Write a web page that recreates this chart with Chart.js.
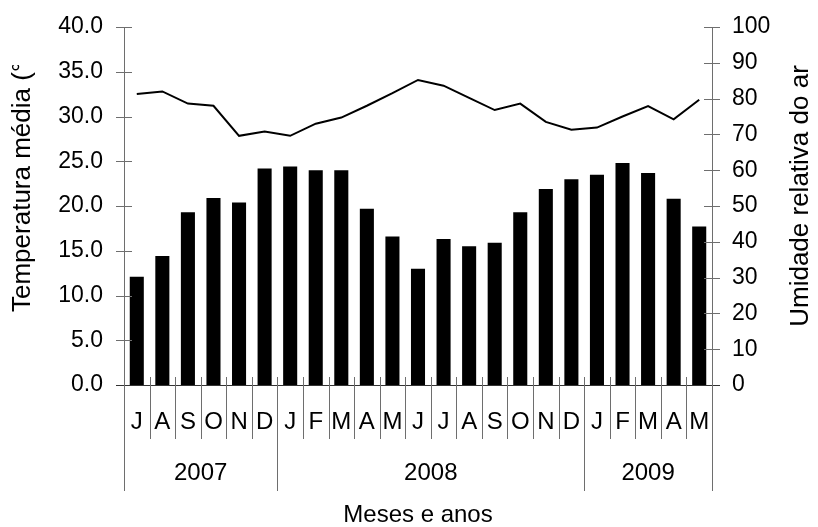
<!DOCTYPE html>
<html>
<head>
<meta charset="utf-8">
<script src="https://cdn.jsdelivr.net/npm/chart.js@4"></script>
<style>
  html, body { margin: 0; padding: 0; background: #fff; }
  #wrap { width: 818px; height: 527px; }
</style>
</head>
<body>
<div id="wrap"><canvas id="climaChart" width="818" height="527"></canvas></div>
<script>
// Meses (categorias) e anos
const months = ['J','A','S','O','N','D','J','F','M','A','M','J','J','A','S','O','N','D','J','F','M','A','M'];
const yearLabels = ['2007', '2008', '2009'];
const yearSpans = [6, 12, 5];

// Temperatura média (barras, eixo esquerdo)
const temperatura = [12.1, 14.4, 19.3, 20.9, 20.4, 24.2, 24.4, 24.0, 24.0, 19.7, 16.6, 13.0,
                     16.3, 15.5, 15.9, 19.3, 21.9, 23.0, 23.5, 24.8, 23.7, 20.8, 17.7];
// Umidade relativa do ar (linha, eixo direito)
const umidade = [81.3, 82.0, 78.6, 78.0, 69.6, 70.8, 69.6, 73.0, 74.7, 78.0, 81.5, 85.2,
                 83.6, 80.2, 76.8, 78.6, 73.5, 71.3, 71.9, 75.0, 77.9, 74.2, 79.7];

// Ticks
const leftTicks = [0, 5, 10, 15, 20, 25, 30, 35, 40];
const rightTicks = [0, 10, 20, 30, 40, 50, 60, 70, 80, 90, 100];

const FAMILY = '"Liberation Sans", Arial, sans-serif';
const AXIS = '#6e6e6e';

// Draws axes, crossing ticks, month/year separators and titles
const axesPlugin = {
  id: 'axesPlugin',
  afterDraw(chart) {
    const ctx = chart.ctx;
    const xs = chart.scales.x, yl = chart.scales.y, yr = chart.scales.y1;
    const area = chart.chartArea;
    const n = months.length;
    const w = (area.right - area.left) / n;
    const base = yl.getPixelForValue(0);
    const edge = i => xs.getPixelForValue(i) - w / 2;

    ctx.save();
    ctx.lineWidth = 1;
    ctx.strokeStyle = AXIS;
    ctx.fillStyle = '#000';

    // left axis
    ctx.beginPath();
    ctx.moveTo(area.left + 0.5, yl.getPixelForValue(40));
    ctx.lineTo(area.left + 0.5, base);
    leftTicks.forEach(v => {
      const y = Math.round(yl.getPixelForValue(v)) + 0.5;
      ctx.moveTo(area.left - 8, y);
      ctx.lineTo(area.left + 8, y);
    });
    // right axis
    ctx.moveTo(area.right + 0.5, yr.getPixelForValue(100));
    ctx.lineTo(area.right + 0.5, base);
    rightTicks.forEach(v => {
      const y = Math.round(yr.getPixelForValue(v)) + 0.5;
      ctx.moveTo(area.right - 8, y);
      ctx.lineTo(area.right + 8, y);
    });
    ctx.stroke();

    // x axis
    ctx.strokeStyle = '#333';
    ctx.beginPath();
    ctx.moveTo(area.left - 8, Math.round(base) + 0.5);
    ctx.lineTo(area.right + 8, Math.round(base) + 0.5);
    ctx.stroke();

    // month separators
    ctx.strokeStyle = AXIS;
    ctx.beginPath();
    for (let i = 0; i <= n; i++) {
      const x = Math.round(edge(i)) + 0.5;
      ctx.moveTo(x, base - 8);
      ctx.lineTo(x, base + 54);
    }
    // year separators
    let acc = 0;
    [0, ...yearSpans].forEach(s => {
      acc += s;
      const x = Math.round(edge(acc)) + 0.5;
      ctx.moveTo(x, base - 8);
      ctx.lineTo(x, base + 106);
    });
    ctx.stroke();

    // tick labels
    ctx.font = '23px ' + FAMILY;
    ctx.textBaseline = 'middle';
    ctx.textAlign = 'right';
    leftTicks.forEach(v => ctx.fillText(v.toFixed(1), area.left - 21, yl.getPixelForValue(v)));
    ctx.textAlign = 'left';
    rightTicks.forEach(v => ctx.fillText(String(v), area.right + 20, yr.getPixelForValue(v)));

    // month labels
    ctx.font = '24px ' + FAMILY;
    ctx.textAlign = 'center';
    months.forEach((m, i) => ctx.fillText(m, xs.getPixelForValue(i), base + 37));

    // year labels
    acc = 0;
    yearLabels.forEach((yLabel, k) => {
      const x0 = edge(acc), x1 = edge(acc + yearSpans[k]);
      acc += yearSpans[k];
      ctx.fillText(yLabel, (x0 + x1) / 2, base + 88);
    });

    // titles
    ctx.fillText('Meses e anos', (area.left + area.right) / 2, 515);

    ctx.font = '26px ' + FAMILY;
    ctx.save();
    ctx.translate(23, 312);
    ctx.rotate(-Math.PI / 2);
    ctx.textAlign = 'left';
    ctx.beginPath();
    ctx.rect(0, -20, 247, 40);
    ctx.clip();
    ctx.fillText('Temperatura média (°C)', 0, 0);
    ctx.restore();

    ctx.save();
    ctx.translate(801, 196);
    ctx.rotate(-Math.PI / 2);
    ctx.textAlign = 'center';
    ctx.fillText('Umidade relativa do ar', 0, 0);
    ctx.restore();

    ctx.restore();
  }
};

new Chart(document.getElementById('climaChart').getContext('2d'), {
  type: 'bar',
  data: {
    labels: months,
    datasets: [
      {
        type: 'line',
        label: 'Umidade relativa do ar',
        data: umidade,
        yAxisID: 'y1',
        borderColor: '#000',
        borderWidth: 2,
        tension: 0,
        pointRadius: 0,
        fill: false,
        order: 0
      },
      {
        type: 'bar',
        label: 'Temperatura média',
        data: temperatura,
        yAxisID: 'y',
        backgroundColor: '#000',
        borderWidth: 0,
        barPercentage: 0.55,
        categoryPercentage: 1.0,
        order: 1
      }
    ]
  },
  options: {
    responsive: false,
    animation: false,
    layout: { padding: { left: 124, right: 106, top: 27, bottom: 142 } },
    plugins: {
      legend: { display: false },
      tooltip: { enabled: false }
    },
    scales: {
      x: { type: 'category', offset: true, display: false },
      y: { position: 'left', min: 0, max: 40, display: false },
      y1: { position: 'right', min: 0, max: 100, display: false }
    }
  },
  plugins: [axesPlugin]
});
</script>
</body>
</html>
